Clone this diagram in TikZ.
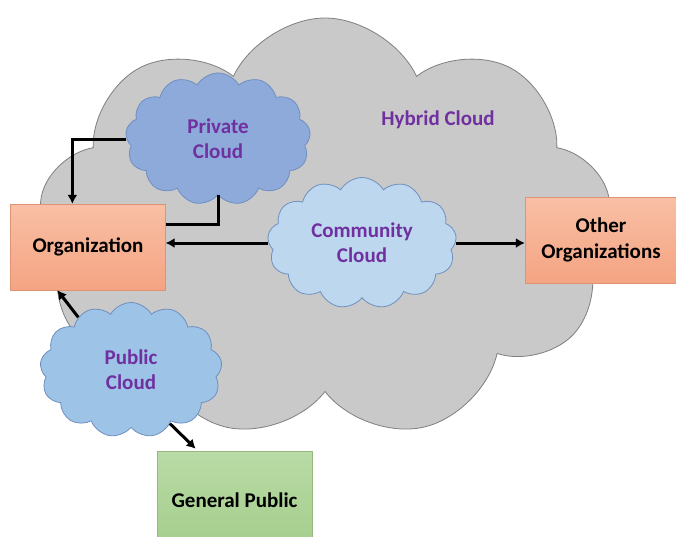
\documentclass[tikz,border=0pt]{standalone}
\usepackage{fontspec}
\setmainfont{Carlito}
\usetikzlibrary{shapes.symbols,arrows.meta}

\definecolor{hybridfill}{HTML}{C9C9C9}
\definecolor{hybridline}{HTML}{7F7F7F}
\definecolor{privfill}{HTML}{8EAADB}
\definecolor{commfill}{HTML}{BDD7EE}
\definecolor{pubfill}{HTML}{9DC3E6}
\definecolor{cloudline}{HTML}{6E8FBF}
\definecolor{cloudtext}{HTML}{7030A0}
\definecolor{orgtop}{HTML}{F9BFA5}
\definecolor{orgbot}{HTML}{F4A482}
\definecolor{pubtop}{HTML}{B9DBA6}
\definecolor{pubbot}{HTML}{A4CD8B}

\begin{document}
\begin{tikzpicture}[x=1pt,y=-1pt,
  cloudy/.style={cloud, cloud puffs=13, cloud puff arc=120, cloud ignores aspect,
    draw=cloudline, line width=0.8pt, align=center, text=cloudtext,
    font=\bfseries\fontsize{21}{25}\selectfont},
  boxy/.style={rectangle, draw=orgbot!90!black, line width=0.3pt, align=center,
    minimum width=155pt, minimum height=86pt, top color=orgtop, bottom color=orgbot,
    font=\bfseries\fontsize{21}{26}\selectfont},
  conn/.style={line width=3pt, -{Latex[length=9pt,width=10pt]}}]
  \useasboundingbox (0,0) rectangle (676,536);

  % the hybrid cloud behind everything
  \node[cloud, cloud puffs=9, cloud puff arc=130, cloud ignores aspect,
    draw=hybridline, line width=0.8pt, fill=hybridfill,
    minimum width=574pt, minimum height=422pt] (hybrid) at (325,229) {};
  \node[text=cloudtext, font=\bfseries\fontsize{21}{25}\selectfont] (hybridlbl) at (438,120) {Hybrid Cloud};

  % clouds
  \node[cloudy, fill=privfill, minimum width=185pt, minimum height=132pt] (private) at (218,139) {Private\\Cloud};
  \node[cloudy, fill=commfill, minimum width=189pt, minimum height=131pt] (community) at (362,243) {Community\\Cloud};
  \node[cloudy, fill=pubfill, minimum width=182pt, minimum height=135pt] (public) at (131,370) {Public\\Cloud};

  % boxes
  \node[boxy] (org) at (88,247) {Organization};
  \node[boxy, minimum width=152pt] (other) at (601,240) {Other\\Organizations};
  \node[boxy, top color=pubtop, bottom color=pubbot, draw=pubbot!90!black,
    minimum height=98pt] (genpub) at (234.5,500) {General Public};

  % connectors
  \draw[conn] (private.west) -| ([xshift=62pt]org.north west);
  \draw[line width=3pt] ([yshift=23pt]org.east) -| (private.south);
  \draw[conn] (community.west) -- (community.west -| org.east);
  \draw[conn] (community.east) -- (community.east -| other.west);
  \draw[conn] (public.135) -- ([xshift=47pt]org.south west);
  \draw[conn, shorten >=3pt] (public.-54) -- ([xshift=41pt]genpub.north west);
\end{tikzpicture}
\end{document}
